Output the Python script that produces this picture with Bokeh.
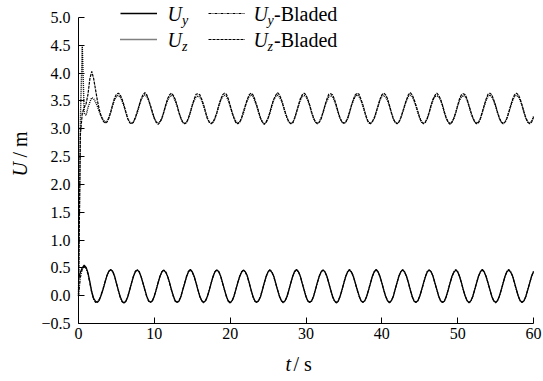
from bokeh.plotting import figure
from bokeh.models import (Range1d, FixedTicker, CustomJSTickFormatter, Label,
                          Legend, LegendItem)
from bokeh.embed import file_html
from bokeh.resources import INLINE

T_STEP = 0.25
x_ticks = [0, 10, 20, 30, 40, 50, 60]
y_ticks = [-0.5, 0.0, 0.5, 1.0, 1.5, 2.0, 2.5, 3.0, 3.5, 4.0, 4.5, 5.0]

uy = [0.30, 0.42, 0.50,
      0.55, 0.51, 0.41, 0.25, 0.07, -0.05, -0.10, -0.12, -0.08, 0.01, 0.12, 0.24, 0.36, 0.44,
      0.47, 0.44, 0.35, 0.22, 0.10, -0.02, -0.10, -0.13, -0.10, -0.02, 0.10, 0.23, 0.35, 0.43,
      0.46, 0.43, 0.34, 0.23, 0.11, -0.01, -0.09, -0.12, -0.09, -0.01, 0.11, 0.23, 0.35, 0.43,
      0.46, 0.42, 0.35, 0.24, 0.11, 0.00, -0.09, -0.12, -0.10, -0.02, 0.11, 0.22, 0.34, 0.43,
      0.47, 0.43, 0.35, 0.23, 0.10, -0.01, -0.09, -0.12, -0.09, -0.01, 0.10, 0.23, 0.35, 0.43,
      0.46, 0.43, 0.35, 0.23, 0.11, -0.01, -0.10, -0.13, -0.09, -0.01, 0.11, 0.23, 0.34, 0.42,
      0.46, 0.43, 0.36, 0.24, 0.11, -0.01, -0.09, -0.12, -0.09, -0.02, 0.10, 0.23, 0.35, 0.43,
      0.46, 0.42, 0.35, 0.23, 0.10, -0.01, -0.09, -0.12, -0.09, -0.01, 0.11, 0.23, 0.35, 0.44,
      0.47, 0.43, 0.35, 0.22, 0.10, -0.02, -0.10, -0.12, -0.09, -0.01, 0.11, 0.24, 0.35, 0.43,
      0.46, 0.43, 0.35, 0.23, 0.11, -0.01, -0.09, -0.13, -0.10, -0.01, 0.11, 0.23, 0.35, 0.43,
      0.46, 0.42, 0.34, 0.23, 0.11, 0.00, -0.09, -0.12, -0.09, -0.01, 0.10, 0.22, 0.35, 0.43,
      0.47, 0.43, 0.35, 0.23, 0.10, -0.01, -0.09, -0.12, -0.09, -0.02, 0.11, 0.23, 0.35, 0.43,
      0.46, 0.43, 0.35, 0.24, 0.11, -0.01, -0.10, -0.12, -0.09, -0.01, 0.11, 0.23, 0.34, 0.43,
      0.46, 0.43, 0.35, 0.23, 0.11, -0.01, -0.09, -0.12, -0.10, -0.01, 0.10, 0.23, 0.35, 0.42,
      0.46, 0.43, 0.35, 0.23, 0.10, -0.01, -0.09, -0.13, -0.09, -0.01, 0.11, 0.23, 0.35, 0.43,
      0.47, 0.43, 0.34, 0.23, 0.11, -0.01, -0.09, -0.12, -0.09, -0.01, 0.11, 0.23, 0.35, 0.43,
      0.46, 0.42, 0.35, 0.23, 0.11, -0.01, -0.09, -0.12, -0.09, -0.01, 0.11, 0.23, 0.35, 0.43]

uy_bladed = [0.00, 0.33, 0.48,
      0.52, 0.49, 0.39, 0.22, 0.05, -0.07, -0.12, -0.11, -0.06, 0.03, 0.13, 0.25, 0.36, 0.44,
      0.46, 0.44, 0.36, 0.23, 0.09, -0.03, -0.11, -0.13, -0.10, -0.01, 0.11, 0.23, 0.35, 0.44,
      0.47, 0.43, 0.35, 0.22, 0.10, -0.02, -0.10, -0.12, -0.09, 0.00, 0.11, 0.24, 0.35, 0.43,
      0.46, 0.43, 0.35, 0.23, 0.10, -0.01, -0.10, -0.12, -0.09, -0.01, 0.10, 0.23, 0.35, 0.44,
      0.46, 0.42, 0.34, 0.23, 0.11, -0.02, -0.09, -0.13, -0.09, -0.02, 0.11, 0.23, 0.34, 0.43,
      0.47, 0.43, 0.35, 0.22, 0.10, -0.01, -0.09, -0.12, -0.10, -0.01, 0.11, 0.24, 0.35, 0.43,
      0.46, 0.42, 0.35, 0.23, 0.10, -0.02, -0.10, -0.12, -0.09, -0.01, 0.11, 0.23, 0.34, 0.43,
      0.47, 0.43, 0.34, 0.22, 0.11, -0.01, -0.09, -0.13, -0.09, -0.02, 0.10, 0.23, 0.35, 0.43,
      0.46, 0.43, 0.35, 0.23, 0.11, -0.01, -0.09, -0.12, -0.10, -0.01, 0.11, 0.23, 0.35, 0.43,
      0.46, 0.42, 0.35, 0.23, 0.10, -0.02, -0.10, -0.12, -0.09, -0.01, 0.10, 0.24, 0.35, 0.44,
      0.47, 0.43, 0.35, 0.22, 0.10, -0.01, -0.09, -0.12, -0.09, -0.02, 0.11, 0.23, 0.34, 0.43,
      0.46, 0.43, 0.34, 0.23, 0.11, -0.01, -0.09, -0.13, -0.10, -0.01, 0.11, 0.23, 0.35, 0.43,
      0.47, 0.42, 0.35, 0.23, 0.10, -0.02, -0.09, -0.12, -0.09, -0.01, 0.10, 0.22, 0.35, 0.44,
      0.46, 0.43, 0.35, 0.22, 0.11, -0.01, -0.10, -0.12, -0.09, -0.02, 0.11, 0.23, 0.34, 0.43,
      0.47, 0.43, 0.34, 0.23, 0.10, -0.01, -0.09, -0.12, -0.10, -0.01, 0.11, 0.24, 0.35, 0.43,
      0.46, 0.42, 0.35, 0.23, 0.11, -0.02, -0.09, -0.13, -0.09, -0.01, 0.10, 0.23, 0.35, 0.44,
      0.47, 0.43, 0.35, 0.22, 0.10, -0.01, -0.10, -0.12, -0.09, -0.01, 0.11, 0.23, 0.35, 0.44]

uz = [0.00, 3.20, 4.48, 3.28, 3.24, 3.38, 3.48,
      3.56, 3.54, 3.48, 3.40, 3.30, 3.22, 3.16, 3.12, 3.13, 3.20, 3.30, 3.42, 3.52, 3.58,
      3.60, 3.57, 3.50, 3.41, 3.29, 3.18, 3.12, 3.10, 3.12, 3.20, 3.29, 3.41, 3.52, 3.58,
      3.61, 3.58, 3.51, 3.40, 3.28, 3.19, 3.12, 3.11, 3.13, 3.19, 3.30, 3.41, 3.51, 3.58,
      3.60, 3.58, 3.50, 3.41, 3.29, 3.19, 3.11, 3.10, 3.12, 3.19, 3.29, 3.42, 3.51, 3.57,
      3.59, 3.57, 3.51, 3.41, 3.30, 3.19, 3.12, 3.10, 3.12, 3.18, 3.29, 3.41, 3.51, 3.58,
      3.60, 3.58, 3.51, 3.40, 3.29, 3.20, 3.13, 3.10, 3.12, 3.19, 3.28, 3.40, 3.51, 3.58,
      3.61, 3.58, 3.50, 3.41, 3.29, 3.19, 3.12, 3.09, 3.12, 3.19, 3.29, 3.41, 3.52, 3.58,
      3.60, 3.57, 3.51, 3.42, 3.29, 3.19, 3.12, 3.10, 3.11, 3.19, 3.30, 3.41, 3.51, 3.58,
      3.60, 3.58, 3.51, 3.41, 3.28, 3.19, 3.12, 3.10, 3.12, 3.20, 3.29, 3.41, 3.50, 3.57,
      3.60, 3.58, 3.50, 3.40, 3.29, 3.18, 3.12, 3.10, 3.12, 3.19, 3.29, 3.42, 3.51, 3.58,
      3.61, 3.58, 3.51, 3.41, 3.30, 3.19, 3.11, 3.10, 3.13, 3.19, 3.29, 3.41, 3.51, 3.58,
      3.60, 3.57, 3.51, 3.41, 3.29, 3.19, 3.12, 3.10, 3.12, 3.19, 3.30, 3.40, 3.51, 3.58,
      3.60, 3.58, 3.50, 3.41, 3.29, 3.20, 3.12, 3.10, 3.12, 3.19, 3.29, 3.41, 3.52, 3.58,
      3.59, 3.58, 3.51, 3.42, 3.29, 3.19, 3.12, 3.09, 3.12, 3.19, 3.29, 3.41, 3.51, 3.57,
      3.60, 3.58, 3.51, 3.41, 3.28, 3.19, 3.13, 3.10, 3.12, 3.18, 3.29, 3.41, 3.51, 3.58,
      3.61, 3.57, 3.50, 3.41, 3.29, 3.19, 3.12, 3.10, 3.12, 3.19, 3.30, 3.41, 3.51, 3.58,
      3.60, 3.58, 3.51, 3.41, 3.29, 3.19, 3.12, 3.10, 3.13, 3.22]

uz_bladed = [0.00, 2.90, 3.28, 3.38, 3.45, 3.62, 3.90,
      4.03, 3.90, 3.70, 3.50, 3.34, 3.22, 3.14, 3.10, 3.12, 3.19, 3.30, 3.43, 3.55, 3.62,
      3.64, 3.61, 3.53, 3.42, 3.30, 3.18, 3.11, 3.09, 3.12, 3.20, 3.31, 3.42, 3.53, 3.61,
      3.65, 3.61, 3.52, 3.41, 3.30, 3.19, 3.12, 3.08, 3.12, 3.19, 3.30, 3.43, 3.54, 3.61,
      3.64, 3.60, 3.53, 3.42, 3.29, 3.19, 3.12, 3.09, 3.11, 3.19, 3.30, 3.42, 3.53, 3.62,
      3.63, 3.61, 3.53, 3.43, 3.30, 3.18, 3.12, 3.09, 3.12, 3.20, 3.29, 3.42, 3.53, 3.61,
      3.64, 3.62, 3.54, 3.42, 3.30, 3.19, 3.11, 3.09, 3.12, 3.19, 3.31, 3.42, 3.52, 3.61,
      3.64, 3.61, 3.53, 3.42, 3.31, 3.19, 3.12, 3.08, 3.12, 3.19, 3.30, 3.43, 3.53, 3.60,
      3.65, 3.61, 3.53, 3.41, 3.30, 3.20, 3.12, 3.09, 3.11, 3.19, 3.30, 3.42, 3.54, 3.61,
      3.64, 3.61, 3.52, 3.42, 3.30, 3.19, 3.12, 3.09, 3.12, 3.18, 3.30, 3.42, 3.53, 3.62,
      3.63, 3.61, 3.53, 3.42, 3.29, 3.19, 3.12, 3.10, 3.12, 3.19, 3.31, 3.42, 3.53, 3.61,
      3.64, 3.62, 3.53, 3.43, 3.30, 3.19, 3.11, 3.09, 3.13, 3.19, 3.30, 3.41, 3.53, 3.61,
      3.64, 3.61, 3.54, 3.42, 3.30, 3.18, 3.12, 3.09, 3.12, 3.20, 3.30, 3.42, 3.52, 3.61,
      3.65, 3.61, 3.53, 3.42, 3.31, 3.19, 3.12, 3.09, 3.12, 3.19, 3.30, 3.43, 3.53, 3.60,
      3.64, 3.60, 3.53, 3.42, 3.30, 3.19, 3.12, 3.08, 3.12, 3.19, 3.29, 3.42, 3.54, 3.61,
      3.63, 3.61, 3.53, 3.41, 3.30, 3.20, 3.12, 3.09, 3.11, 3.19, 3.30, 3.42, 3.53, 3.62,
      3.64, 3.61, 3.52, 3.42, 3.30, 3.19, 3.12, 3.09, 3.12, 3.19, 3.30, 3.42, 3.53, 3.61,
      3.64, 3.61, 3.53, 3.42, 3.30, 3.19, 3.12, 3.09, 3.12, 3.21]

t = [i * T_STEP for i in range(len(uy))]

# ---------------- layout (pixels in the 543x381 picture) ----------------
W, H = 543, 381
AX_L, AX_R, AX_T, AX_B = 78, 533, 17, 323    # where x=0, x=60, y=5.0, y=-0.5 fall
X0, X1, Y0, Y1 = 0, 60, -0.5, 5.0
FONT = "Liberation Serif"

def dx(px):
    return X0 + (px - AX_L) / (AX_R - AX_L) * (X1 - X0)

def dy(py):
    return Y1 - (py - AX_T) / (AX_B - AX_T) * (Y1 - Y0)

p = figure(width=W, height=H, x_range=Range1d(dx(0), dx(W)), y_range=Range1d(dy(H), dy(0)),
           output_backend="svg", toolbar_location=None, title=None,
           min_border=0, min_border_left=0, min_border_right=0,
           min_border_top=0, min_border_bottom=0)
p.outline_line_color = None
p.grid.visible = False
p.background_fill_color = "white"
p.border_fill_color = "white"

xa, ya = p.xaxis[0], p.yaxis[0]
xa.fixed_location = Y0
ya.fixed_location = X0
xa.bounds = (X0, X1)
ya.bounds = (Y0, Y1)
xa.ticker = FixedTicker(ticks=x_ticks)
ya.ticker = FixedTicker(ticks=y_ticks)
xa.formatter = CustomJSTickFormatter(code="return tick.toFixed(0);")
ya.formatter = CustomJSTickFormatter(code="return tick.toFixed(1).replace('-', '\\u2212');")
for ax in (xa, ya):
    ax.axis_line_color = "black"
    ax.axis_line_width = 1
    ax.major_tick_in = 6
    ax.major_tick_out = 0
    ax.minor_tick_in = 0
    ax.minor_tick_out = 0
    ax.major_tick_line_color = "black"
    ax.major_label_text_font = FONT
    ax.major_label_text_font_size = "16px"
    ax.major_label_text_color = "black"
xa.major_label_standoff = 4
ya.major_label_standoff = 8

r_uy = p.line(t, uy, line_color="black", line_width=1.3)
r_uz = p.line(t, uz, line_color="black", line_width=1.4, line_dash="1 1")
r_uyb = p.line(t, uy_bladed, line_color="black", line_width=1.2, line_dash="3 1 1 1")
r_uzb = p.line(t, uz_bladed, line_color="black", line_width=1.2, line_dash="3 1")

# legend keys (two columns of two rows)
ROW_H = 26
def make_legend(items, left_px, top_px):
    lg = Legend(items=items, location=(left_px, H - (top_px + 2 * ROW_H)),
                orientation="vertical",
                glyph_width=37, glyph_height=ROW_H, label_height=ROW_H, label_width=0,
                label_standoff=0, padding=0, spacing=0, margin=0,
                border_line_color=None, background_fill_alpha=0,
                label_text_font_size="1px")
    p.add_layout(lg, "center")

make_legend([LegendItem(label=" ", renderers=[r_uy]),
             LegendItem(label=" ", renderers=[r_uz])], 120, 0)
make_legend([LegendItem(label=" ", renderers=[r_uyb]),
             LegendItem(label=" ", renderers=[r_uzb])], 208, 0)

def txt(text, px, py, size, italic=False, align="left", angle=0.0, yoff=0):
    p.add_layout(Label(x=dx(px), y=dy(py), text=text, text_font=FONT,
                       text_font_size=size,
                       text_font_style="italic" if italic else "normal",
                       text_align=align, text_baseline="middle", angle=angle,
                       y_offset=yoff, text_color="black"))

# legend texts
for row_y, sub in ((13, "y"), (39, "z")):
    txt("U", 167, row_y, "20px", italic=True)
    txt(sub, 181.5, row_y, "14px", italic=True, yoff=-7)
    txt("U", 253, row_y, "20px", italic=True)
    txt(sub, 267, row_y, "14px", italic=True, yoff=-7)
    txt("-Bladed", 273.5, row_y, "20px")

# axis titles
txt("t", 285, 363, "20px", italic=True)
txt("/ s", 293, 363, "20px")
txt("U", 19, 176, "20px", italic=True, angle=1.5707963)
txt("/ m", 19, 157, "20px", angle=1.5707963)

open("out.html", "w").write(file_html(p, INLINE))
